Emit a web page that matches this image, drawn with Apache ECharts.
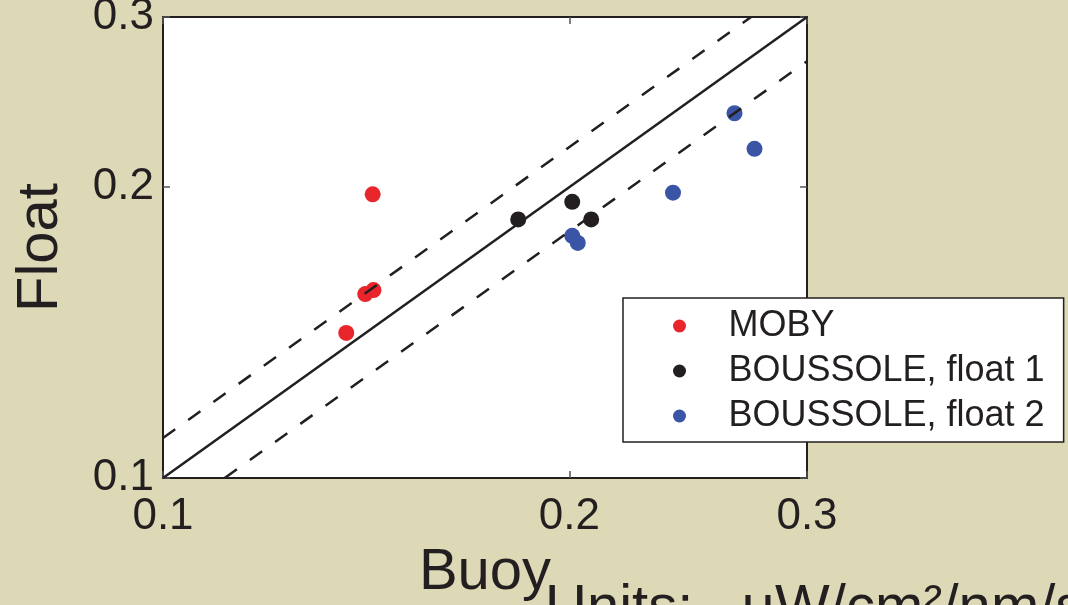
<!DOCTYPE html>
<html>
<head>
<meta charset="utf-8">
<script src="https://cdn.jsdelivr.net/npm/echarts@6/dist/echarts.min.js"></script>
<style>
html,body{margin:0;padding:0;background:#DDD9B6;}
#chart{width:1068px;height:605px;}
</style>
</head>
<body>
<div id="chart"></div>
<script>
// ---- data ----
var tickValues = [0.1, 0.2, 0.3];
var tickLabels = ['0.1', '0.2', '0.3'];
var seriesNames = ['MOBY', 'BOUSSOLE, float 1', 'BOUSSOLE, float 2'];
var mobyPoints = [[0.1430, 0.1966], [0.1412, 0.1550], [0.1432, 0.1565], [0.1367, 0.1413]];
var float1Points = [[0.1833, 0.1852], [0.2010, 0.1931], [0.2076, 0.1852]];
var float2Points = [[0.2010, 0.1781], [0.2029, 0.1751], [0.2387, 0.1974], [0.2651, 0.2385], [0.2743, 0.2191]];
var oneToOne = [[0.1, 0.1], [0.3, 0.3]];
var upperBand = [[0.1, 0.11], [0.2727, 0.3]];
var lowerBand = [[0.1111, 0.1], [0.3, 0.27]];
var unitsText = 'Units:   \u03BCW/cm\u00B2/nm/sr';

var FONT = '"Liberation Sans", Arial, Helvetica, sans-serif';
var INK = '#231F20';
var colors = ['#E8252B', '#231F20', '#3A55A5'];

function fmt(v) {
  for (var i = 0; i < tickValues.length; i++) {
    if (Math.abs(tickValues[i] - v) < 1e-6) return tickLabels[i];
  }
  return '';
}
var logInterval = Math.log10(tickValues[1] / tickValues[0]);

function makeAxis(pos, showLabel, extra) {
  var a = {
    type: 'log',
    logBase: 10,
    min: tickValues[0],
    max: tickValues[tickValues.length - 1],
    interval: logInterval,
    position: pos,
    axisLine: { show: true, onZero: false, lineStyle: { color: INK, width: 2 } },
    axisTick: { show: true, inside: true, length: 7, lineStyle: { color: '#555', width: 1.5 } },
    minorTick: { show: false },
    splitLine: { show: false },
    minorSplitLine: { show: false },
    axisLabel: {
      show: showLabel, formatter: fmt, fontSize: 44, fontFamily: FONT, color: INK,
      showMinLabel: true, showMaxLabel: true, hideOverlap: false
    }
  };
  for (var k in extra) a[k] = extra[k];
  return a;
}

var chart = echarts.init(document.getElementById('chart'), null, { renderer: 'canvas' });
chart.setOption({
  backgroundColor: '#DDD9B6',
  animation: false,
  grid: { left: 163, top: 17, right: 261, bottom: 127, show: true, backgroundColor: '#FFFFFF', borderWidth: 0, containLabel: false, outerBoundsMode: 'none' },
  xAxis: [
    makeAxis('bottom', true, {
      name: 'Buoy', nameLocation: 'middle', nameGap: 63,
      nameTextStyle: { fontSize: 58, fontFamily: FONT, color: INK },
      axisLabel: { show: true, formatter: fmt, fontSize: 44, fontFamily: FONT, color: INK, margin: 17, showMinLabel: true, showMaxLabel: true, hideOverlap: false }
    }),
    makeAxis('top', false, {})
  ],
  yAxis: [
    makeAxis('left', true, {
      name: 'Float', nameLocation: 'middle', nameGap: 93,
      nameTextStyle: { fontSize: 58, fontFamily: FONT, color: INK },
      axisLabel: { show: true, formatter: fmt, fontSize: 44, fontFamily: FONT, color: INK, margin: 9, padding: [8, 0, 0, 0], showMinLabel: true, showMaxLabel: true, hideOverlap: false }
    }),
    makeAxis('right', false, {})
  ],
  legend: {
    data: seriesNames,
    orient: 'vertical',
    left: 623,
    top: 298,
    padding: [10, 19, 8, 50],
    itemGap: 9,
    itemWidth: 88,
    itemHeight: 13,
    icon: 'circle',
    selectedMode: false,
    backgroundColor: '#FFFFFF',
    borderColor: INK,
    borderWidth: 1.5,
    borderRadius: 0,
    itemStyle: { opacity: 1 },
    textStyle: { fontSize: 36, fontFamily: FONT, color: INK, lineHeight: 36, padding: 0 }
  },
  graphic: [{
    type: 'text',
    left: 545,
    top: 580,
    silent: true,
    style: { text: unitsText, fontSize: 58, fontFamily: FONT, fill: INK }
  }],
  series: [
    { name: seriesNames[0], type: 'scatter', data: mobyPoints, symbolSize: 16, itemStyle: { color: colors[0], opacity: 1 }, z: 2 },
    { name: seriesNames[1], type: 'scatter', data: float1Points, symbolSize: 16, itemStyle: { color: colors[1], opacity: 1 }, z: 2 },
    { name: seriesNames[2], type: 'scatter', data: float2Points, symbolSize: 16, itemStyle: { color: colors[2], opacity: 1 }, z: 2 },
    { name: '1:1', type: 'line', data: oneToOne, showSymbol: false, symbol: 'none', lineStyle: { color: INK, width: 2.5 }, z: 3, silent: true },
    { name: '+10%', type: 'line', data: upperBand, showSymbol: false, symbol: 'none', lineStyle: { color: INK, width: 2.5, type: [15, 16] }, z: 3, silent: true },
    { name: '-10%', type: 'line', data: lowerBand, showSymbol: false, symbol: 'none', lineStyle: { color: INK, width: 2.5, type: [15, 16] }, z: 3, silent: true }
  ]
});
</script>
</body>
</html>
